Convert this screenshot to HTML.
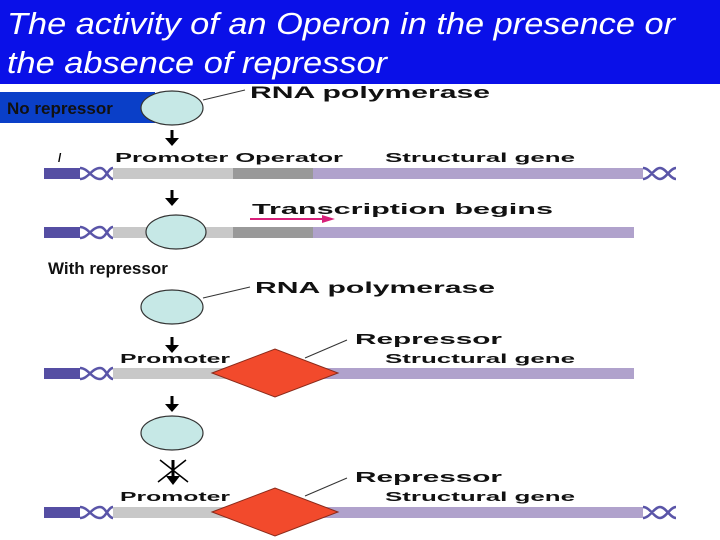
<!DOCTYPE html>
<html><head><meta charset="utf-8"><style>
html,body{margin:0;padding:0;background:#fff;}
body{width:720px;height:540px;overflow:hidden;position:relative;}
svg{position:absolute;left:0;top:0;}
</style></head><body>
<svg width="720" height="540" viewBox="0 0 720 540" xmlns="http://www.w3.org/2000/svg" font-family="Liberation Sans, sans-serif">
<defs>
<g id="helixL"><path d="M80,168 C88,168 92,179 100,179 C106,179 108,168 113,168 M80,179 C88,179 92,168 100,168 C106,168 108,179 113,179" stroke="#5a55a8" stroke-width="2.5" fill="none"/></g>
<g id="helixR"><path d="M643,168 C650,168 654,179 660,179 C666,179 670,168 676,168 M643,179 C650,179 654,168 660,168 C666,168 670,179 676,179" stroke="#5a55a8" stroke-width="2.5" fill="none"/></g>
</defs>

<!-- row1 -->
<line x1="203" y1="100" x2="245" y2="90" stroke="#333"/>
<text x="250" y="98" font-size="17" font-weight="bold" fill="#111" textLength="240" lengthAdjust="spacingAndGlyphs">RNA polymerase</text>

<rect x="0" y="0" width="720" height="84" fill="#0a10e8"/>
<text x="7" y="34" fill="#fff" font-size="31" font-style="italic" textLength="668" lengthAdjust="spacingAndGlyphs">The activity of an Operon in the presence or</text>
<text x="7" y="73" fill="#fff" font-size="31" font-style="italic" textLength="380" lengthAdjust="spacingAndGlyphs">the absence of repressor</text>
<rect x="0" y="92" width="155" height="31" fill="#0a3fc8"/>
<text x="7" y="114" fill="#111" font-size="17" font-weight="bold">No repressor</text>
<ellipse cx="172" cy="108" rx="31" ry="17" fill="#c6e8e6" stroke="#333" stroke-width="1.2"/>

<path d="M172,130v9" stroke="#000" stroke-width="3"/><path d="M165,138h14l-7,8z" fill="#000"/>
<text x="58" y="162" font-size="12" font-weight="bold">/</text>
<text x="115" y="162" font-size="13" font-weight="bold" fill="#111" textLength="228" lengthAdjust="spacingAndGlyphs">Promoter Operator</text>
<text x="385" y="162" font-size="13" font-weight="bold" fill="#111" textLength="190" lengthAdjust="spacingAndGlyphs">Structural gene</text>
<rect x="44" y="168" width="36" height="11" fill="#554ea3"/>
<use href="#helixL"/>
<rect x="113" y="168" width="120" height="11" fill="#c8c8c8"/>
<rect x="233" y="168" width="80" height="11" fill="#999"/>
<rect x="313" y="168" width="330" height="11" fill="#b0a2cc"/>
<use href="#helixR"/>

<!-- row2 -->
<path d="M172,190v9" stroke="#000" stroke-width="3"/><path d="M165,198h14l-7,8z" fill="#000"/>
<text x="252" y="214" font-size="15" font-weight="bold" fill="#111" textLength="301" lengthAdjust="spacingAndGlyphs">Transcription begins</text>
<path d="M250,219h74" stroke="#d8207a" stroke-width="2"/><path d="M322,215l13,4l-13,4z" fill="#d8207a"/>
<g transform="translate(0,59)">
<rect x="44" y="168" width="36" height="11" fill="#554ea3"/>
<use href="#helixL"/>
<rect x="113" y="168" width="120" height="11" fill="#c8c8c8"/>
<rect x="233" y="168" width="80" height="11" fill="#999"/>
<rect x="313" y="168" width="321" height="11" fill="#b0a2cc"/>
</g>
<ellipse cx="176" cy="232" rx="30" ry="17" fill="#c6e8e6" stroke="#333" stroke-width="1.2"/>

<text x="48" y="274" font-size="17" font-weight="bold" fill="#111">With repressor</text>

<!-- row3 -->
<ellipse cx="172" cy="307" rx="31" ry="17" fill="#c6e8e6" stroke="#333" stroke-width="1.2"/>
<line x1="203" y1="298" x2="250" y2="287" stroke="#333"/>
<text x="255" y="293" font-size="16" font-weight="bold" fill="#111" textLength="240" lengthAdjust="spacingAndGlyphs">RNA polymerase</text>
<path d="M172,337v9" stroke="#000" stroke-width="3"/><path d="M165,345h14l-7,8z" fill="#000"/>
<text x="120" y="363" font-size="13" font-weight="bold" fill="#111" textLength="110" lengthAdjust="spacingAndGlyphs">Promoter</text>
<text x="355" y="344" font-size="15" font-weight="bold" fill="#111" textLength="147" lengthAdjust="spacingAndGlyphs">Repressor</text>
<text x="385" y="363" font-size="13" font-weight="bold" fill="#111" textLength="190" lengthAdjust="spacingAndGlyphs">Structural gene</text>
<g transform="translate(0,200)">
<rect x="44" y="168" width="36" height="11" fill="#554ea3"/>
<use href="#helixL"/>
<rect x="113" y="168" width="200" height="11" fill="#c8c8c8"/>
<rect x="313" y="168" width="321" height="11" fill="#b0a2cc"/>
</g>
<line x1="305" y1="358" x2="347" y2="340" stroke="#333"/>
<polygon points="212,373 275,349 338,373 275,397" fill="#f24a2c" stroke="#8a2a1a" stroke-width="1"/>

<!-- row4 -->
<path d="M172,396v9" stroke="#000" stroke-width="3"/><path d="M165,404h14l-7,8z" fill="#000"/>
<ellipse cx="172" cy="433" rx="31" ry="17" fill="#c6e8e6" stroke="#333" stroke-width="1.2"/>
<path d="M173,460v18" stroke="#000" stroke-width="3"/><path d="M166,476h14l-7,9z" fill="#000"/>
<path d="M160,460l28,22M186,460l-28,22" stroke="#000" stroke-width="1.5"/>
<text x="120" y="501" font-size="13" font-weight="bold" fill="#111" textLength="110" lengthAdjust="spacingAndGlyphs">Promoter</text>
<text x="355" y="482" font-size="15" font-weight="bold" fill="#111" textLength="147" lengthAdjust="spacingAndGlyphs">Repressor</text>
<text x="385" y="501" font-size="13" font-weight="bold" fill="#111" textLength="190" lengthAdjust="spacingAndGlyphs">Structural gene</text>
<g transform="translate(0,339)">
<rect x="44" y="168" width="36" height="11" fill="#554ea3"/>
<use href="#helixL"/>
<rect x="113" y="168" width="200" height="11" fill="#c8c8c8"/>
<rect x="313" y="168" width="330" height="11" fill="#b0a2cc"/>
<use href="#helixR"/>
</g>
<line x1="305" y1="496" x2="347" y2="478" stroke="#333"/>
<polygon points="212,512 275,488 338,512 275,536" fill="#f24a2c" stroke="#8a2a1a" stroke-width="1"/>
</svg>
</body></html>
